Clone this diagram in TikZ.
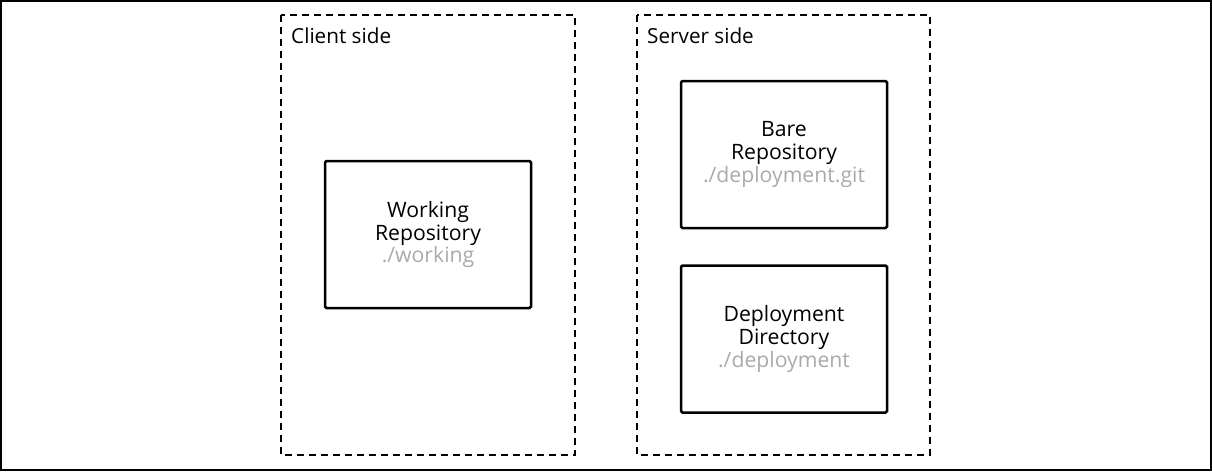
\documentclass[tikz,border=0pt]{standalone}
\usepackage{fontspec}
\setmainfont{Open Sans}
\definecolor{pathgray}{RGB}{170,170,170}
\begin{document}
\begin{tikzpicture}[x=1pt,y=-1pt,
  side/.style={draw=black,line width=2.2pt,dash pattern=on 7pt off 5pt},
  repo/.style={draw=black,line width=2.5pt,rounded corners=1.5pt,minimum width=206pt,minimum height=147pt,align=center,inner sep=0pt,font=\fontsize{21.2pt}{22.8pt}\selectfont},
  sidelabel/.style={anchor=base west,inner sep=0pt,font=\fontsize{20.7pt}{23pt}\selectfont}]
\useasboundingbox (0,0) rectangle (1212,471);
\draw[line width=2pt] (1,1) rectangle (1211,470);
\draw[side] (281,15) rectangle (575,455);
\draw[side] (637,15) rectangle (930,455);
\node[sidelabel] (client) at (291,43) {Client side};
\node[sidelabel] (server) at (647,43) {Server side};
\node[repo] (working) at (428,234.5) {Working\\Repository\\\textcolor{pathgray}{./working}};
\node[repo] (bare) at (784,154.5) {Bare\\Repository\\\textcolor{pathgray}{./deployment.git}};
\node[repo] (deploy) at (784,339) {Deployment\\Directory\\\textcolor{pathgray}{./deployment}};
\end{tikzpicture}
\end{document}
